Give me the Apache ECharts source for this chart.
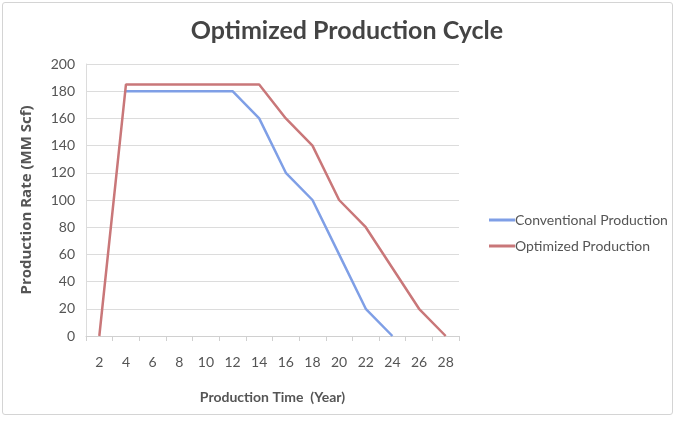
<!DOCTYPE html>
<html>
<head>
<meta charset="utf-8">
<title>Optimized Production Cycle</title>
<script src="https://cdn.jsdelivr.net/npm/echarts@6/dist/echarts.min.js"></script>
<style>
  html, body { margin: 0; padding: 0; background: #fff; }
  #frame { position: absolute; left: 2px; top: 2px; width: 669px; height: 411px;
           border: 1px solid #d4d4d4; border-radius: 3px; }
  #main { width: 675px; height: 422px; position: absolute; left: 0; top: 0; }
</style>
</head>
<body>
<div id="frame"></div>
<div id="main"></div>
<script>
// years on the x axis
var years = ['2', '4', '6', '8', '10', '12', '14', '16', '18', '20', '22', '24', '26', '28'];
// production rate, MM Scf
var conventional = [null, 180, 180, 180, 180, 180, 160, 120, 100, 60, 20, 0, null, null];
var optimized = [0, 185, 185, 185, 185, 185, 185, 160, 140, 100, 80, 50, 20, 0];

var font = 'Lato, "Open Sans", sans-serif';
var myChart = echarts.init(document.getElementById('main'));
var option = {
    animation: false,
    title: {
        text: 'Optimized Production Cycle',
        left: 342,
        textAlign: 'center',
        top: 13,
        textStyle: { fontFamily: font, fontSize: 25, fontWeight: 'bold', color: '#444' }
    },
    legend: {
        orient: 'vertical',
        left: 484,
        top: 208,
        itemGap: 12,
        itemWidth: 26,
        itemHeight: 3,
        icon: 'rect',
        textStyle: { fontFamily: font, fontSize: 14, color: '#555', padding: [0, 0, 0, -5] },
        data: ['Conventional Production', 'Optimized Production']
    },
    grid: { left: 86, right: 216, top: 64, bottom: 86 },
    xAxis: {
        type: 'category',
        data: years,
        boundaryGap: true,
        name: 'Production Time  (Year)',
        nameLocation: 'middle',
        nameGap: 54,
        nameTextStyle: { fontFamily: font, fontSize: 14, fontWeight: 'bold', color: '#555' },
        axisLine: { lineStyle: { color: '#d0d0d0' } },
        axisTick: { show: true, length: 5, lineStyle: { color: '#d0d0d0' } },
        axisLabel: { fontFamily: font, fontSize: 14, color: '#555', margin: 19 }
    },
    yAxis: {
        type: 'value',
        min: 0,
        max: 200,
        interval: 20,
        name: 'Production Rate (MM Scf)',
        nameLocation: 'middle',
        nameGap: 52,
        nameTextStyle: { fontFamily: '"Open Sans", Lato, sans-serif', fontSize: 15, fontWeight: 'bold', color: '#555' },
        axisLine: { show: true, lineStyle: { color: '#dcdcdc' } },
        axisTick: { show: false },
        splitLine: { lineStyle: { color: '#dcdcdc' } },
        axisLabel: { fontFamily: font, fontSize: 14, color: '#555', margin: 11 }
    },
    series: [
        {
            name: 'Conventional Production',
            type: 'line',
            data: conventional,
            symbol: 'none',
            color: '#7f9fe6',
            lineStyle: { width: 2.5, color: '#7f9fe6' }
        },
        {
            name: 'Optimized Production',
            type: 'line',
            data: optimized,
            symbol: 'none',
            color: '#c97779',
            lineStyle: { width: 2.5, color: '#c97779' }
        }
    ]
};
myChart.setOption(option);
</script>
</body>
</html>
